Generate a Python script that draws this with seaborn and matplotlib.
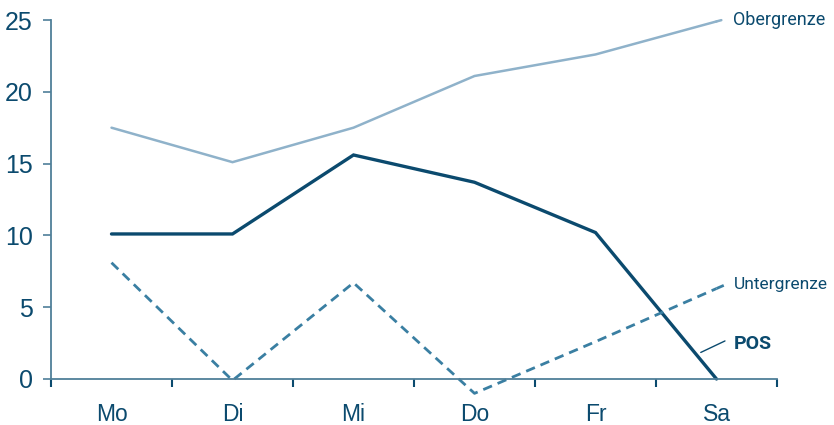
import matplotlib
matplotlib.use("Agg")
import matplotlib.pyplot as plt
import seaborn as sns
import pandas as pd

days = ["Mo", "Di", "Mi", "Do", "Fr", "Sa"]
obergrenze = [17.5, 15.1, 17.5, 21.1, 22.6, 24.9]
pos = [10.1, 10.1, 15.6, 13.7, 10.2, 0.0]
untergrenze = [8.1, -0.1, 6.7, -1.0, 2.6, 6.3]
y_ticks = [0, 5, 10, 15, 20, 25]

NAVY = "#0b4a6e"
LIGHT = "#8fb2ca"
MID = "#3a7fa2"
SPINE = "#4f7f99"

sns.set_theme(style="white")
plt.rcParams["font.family"] = ["Liberation Sans", "DejaVu Sans"]
LABEL_FONT = ["Roboto", "DejaVu Sans"]

df = pd.DataFrame({
    "x": list(range(len(days))) * 3,
    "wert": obergrenze + pos + untergrenze,
    "reihe": ["Obergrenze"] * 6 + ["POS"] * 6 + ["Untergrenze"] * 6,
})

fig = plt.figure(figsize=(8.34, 4.25), dpi=100)
ax = fig.add_axes([51 / 834, 1 - 379 / 425, 726 / 834, 359 / 425])

sns.lineplot(data=df, x="x", y="wert", hue="reihe", style="reihe",
             palette={"Obergrenze": LIGHT, "POS": NAVY, "Untergrenze": MID},
             dashes={"Obergrenze": "", "POS": "", "Untergrenze": (3.4, 2.2)},
             size="reihe", sizes={"Obergrenze": 1.8, "POS": 2.4, "Untergrenze": 2.0},
             legend=False, ax=ax)
for line in ax.lines:
    line.set_clip_on(False)
    line.set_solid_joinstyle("miter")

ax.set_xlim(-0.5, len(days) - 0.5)
ax.set_ylim(0, 25)
ax.set_xticks(range(len(days)))
ax.set_xticklabels(days)
ax.set_xticks([i - 0.5 for i in range(len(days) + 1)], minor=True)
ax.set_yticks(y_ticks)
ax.tick_params(axis="x", which="major", length=0, pad=17, labelsize=16.5, labelcolor=NAVY)
ax.tick_params(axis="x", which="minor", length=6, width=1.5, color=NAVY, direction="out", bottom=True)
ax.tick_params(axis="y", length=6, width=1.2, color=SPINE, direction="out", left=True,
               pad=7, labelsize=18, labelcolor=NAVY)
ax.set_xlabel("")
ax.set_ylabel("")
for side in ["top", "right"]:
    ax.spines[side].set_visible(False)
for side in ["left", "bottom"]:
    ax.spines[side].set_color(SPINE)
    ax.spines[side].set_linewidth(1.3)

# series labels at the right end, with short leader strokes
last = len(days) - 1
ax.plot([last, last + 0.04], [obergrenze[-1], obergrenze[-1] + 0.09],
        color=LIGHT, lw=1.8, clip_on=False)
ax.text(last + 0.14, 25.0, "Obergrenze", fontsize=13, color=NAVY, va="center",
        family=LABEL_FONT, clip_on=False)
ax.plot([last, last + 0.06], [untergrenze[-1], untergrenze[-1] + 0.22],
        color=MID, lw=2.0, dashes=(3.4, 2.2), clip_on=False)
ax.text(last + 0.14, 6.55, "Untergrenze", fontsize=12.5, color=NAVY, va="center",
        family=LABEL_FONT, clip_on=False)
ax.plot([last - 0.13, last + 0.07], [1.85, 2.65], color=NAVY, lw=1.0, clip_on=False)
ax.text(last + 0.14, 2.45, "POS", fontsize=14, color=NAVY, va="center",
        family=LABEL_FONT, fontweight="bold", clip_on=False)

fig.savefig("out.png", dpi=100)
